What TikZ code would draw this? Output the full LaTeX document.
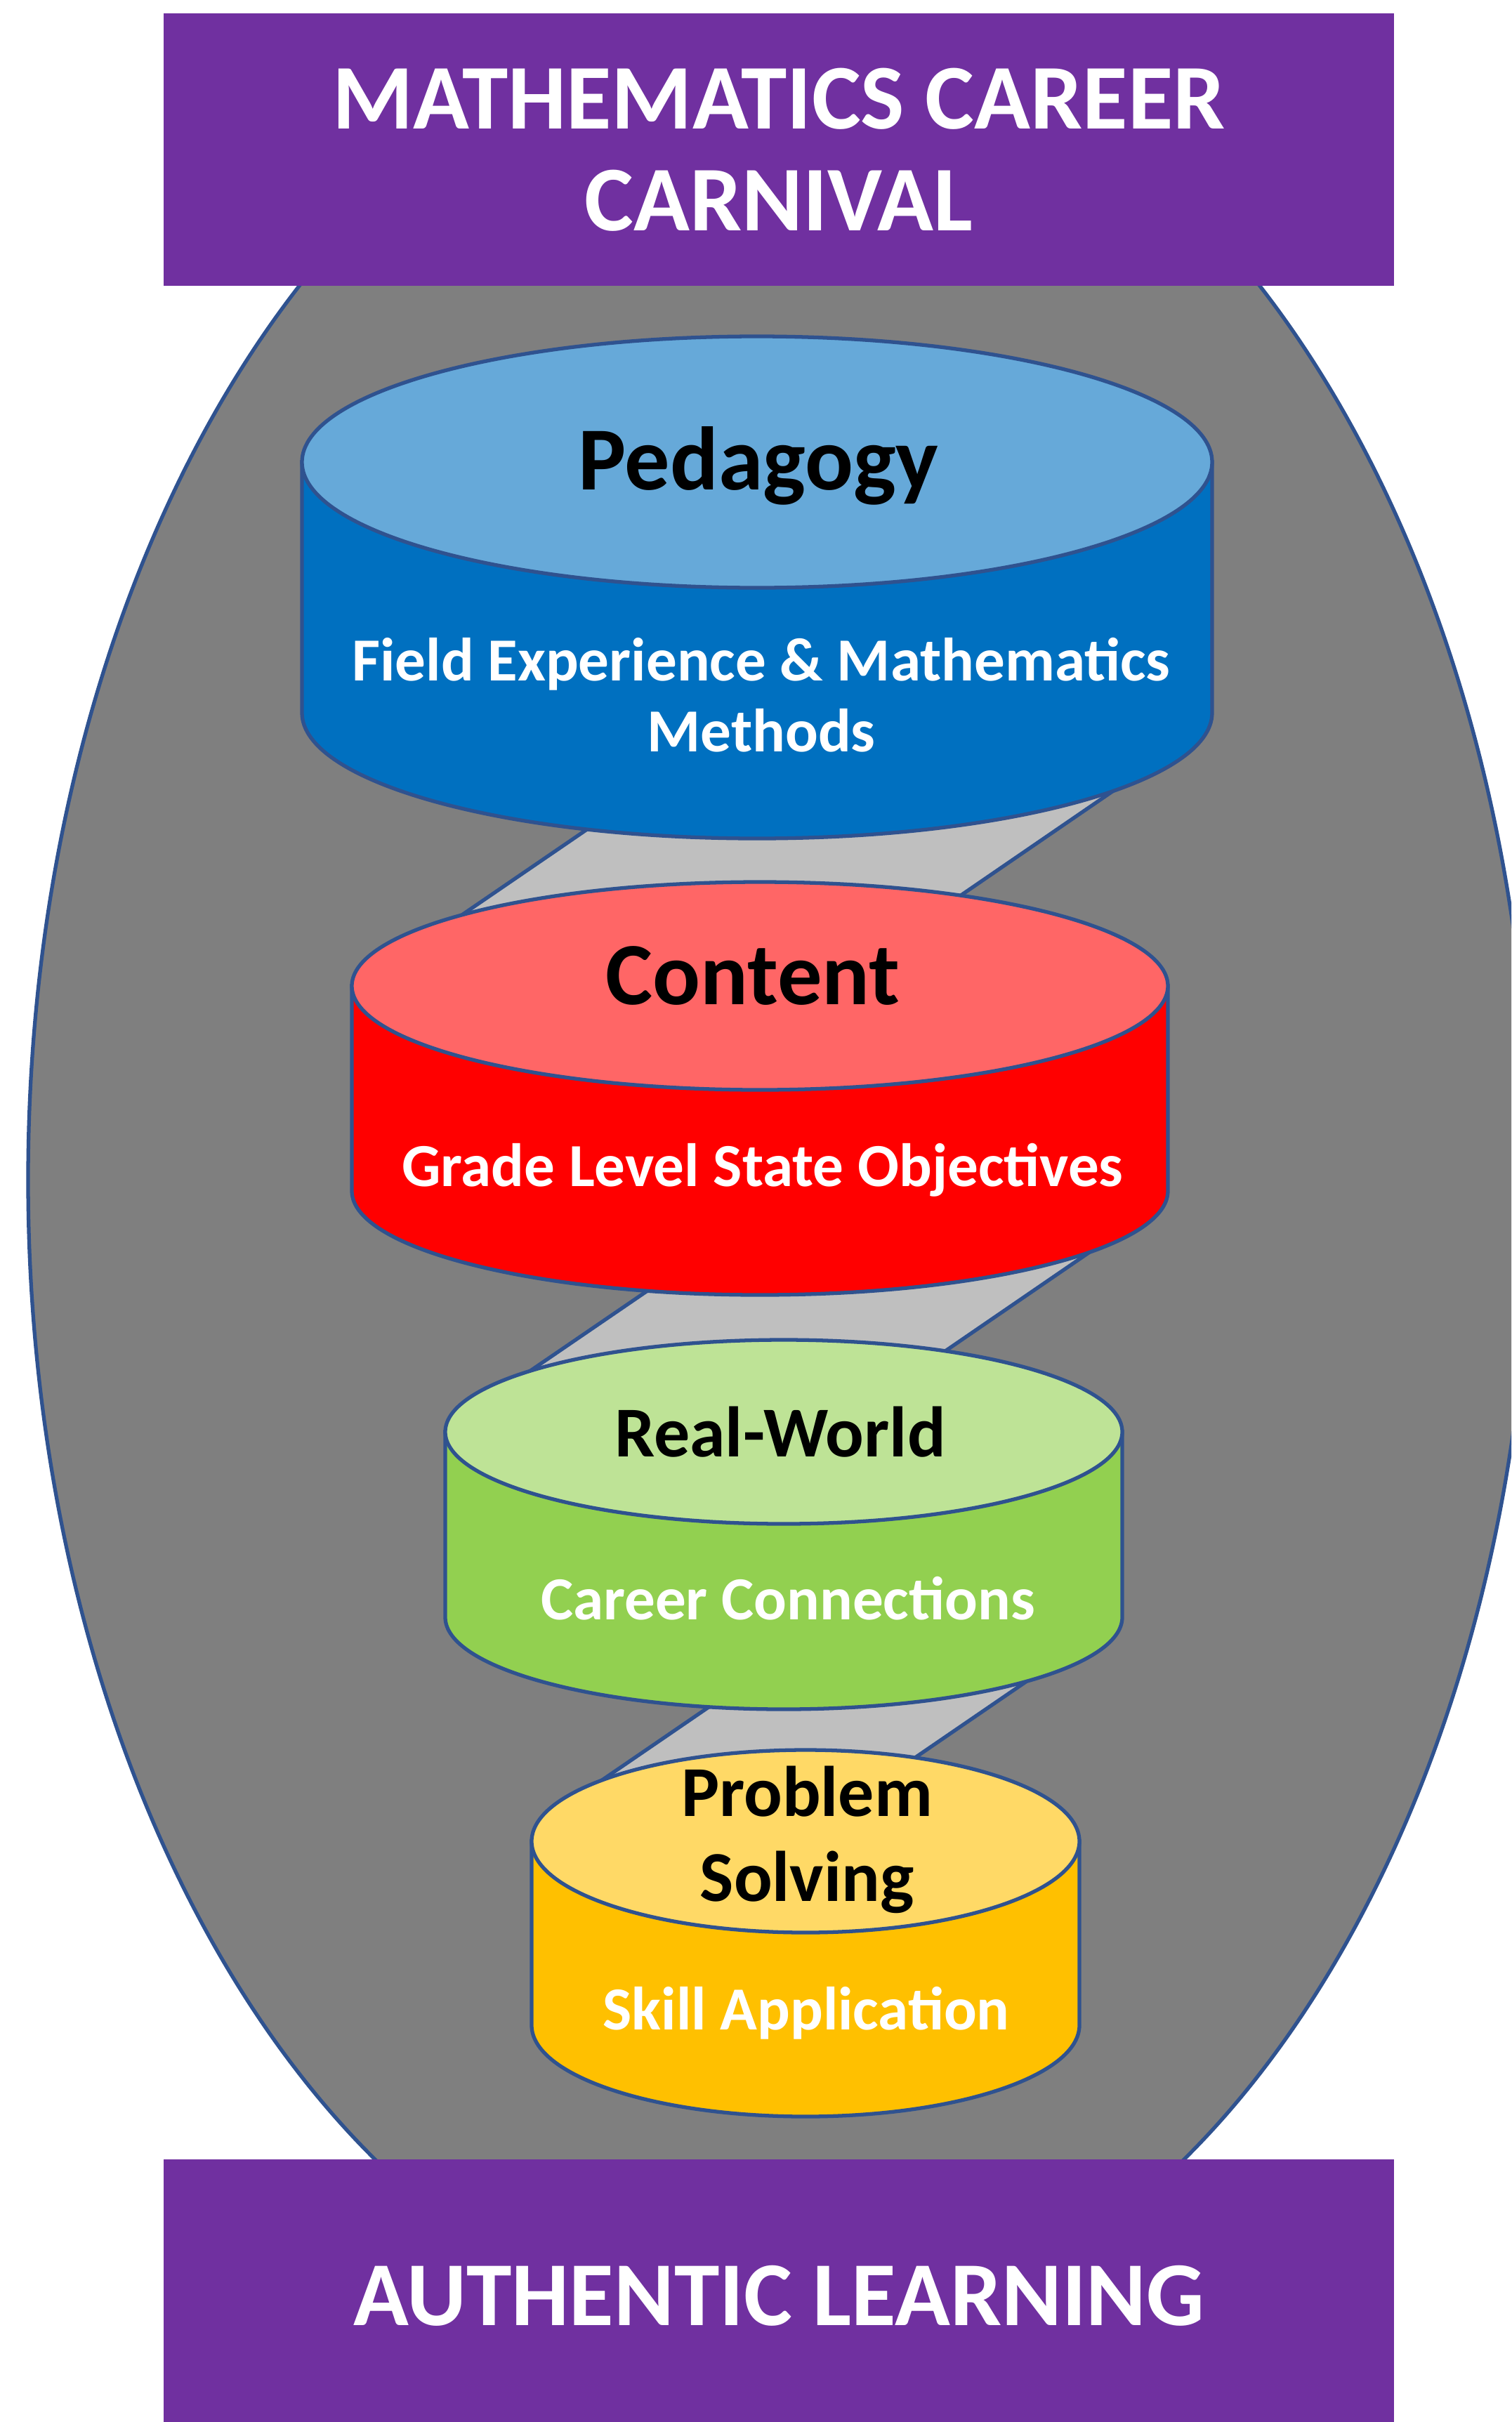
\documentclass[tikz,border=0pt]{standalone}
\usepackage{fontspec}
\setmainfont{Carlito}
\definecolor{bannerpurple}{HTML}{7030A0}
\definecolor{outlineblue}{HTML}{2F528F}
\definecolor{ovalgrey}{HTML}{7F7F7F}
\definecolor{bandgrey}{HTML}{BFBFBF}
\definecolor{pedtop}{HTML}{66A9D9}
\definecolor{pedbody}{HTML}{0070C0}
\definecolor{contop}{HTML}{FF6666}
\definecolor{conbody}{HTML}{FF0000}
\definecolor{realtop}{HTML}{BEE396}
\definecolor{realbody}{HTML}{92D050}
\definecolor{probtop}{HTML}{FFD966}
\definecolor{probbody}{HTML}{FFC000}

\begin{document}
\begin{tikzpicture}[
    drum/.style={draw=outlineblue, line width=1.5pt},
    band/.style={draw=outlineblue, line width=1.5pt, fill=bandgrey},
    banner/.style={rectangle, fill=bannerpurple, text=white, minimum width=17.52cm, minimum height=3.88cm, align=center, font=\bfseries\fontsize{37.5}{41.4}\selectfont},
    heading/.style={inner sep=0pt, anchor=base, align=center, font=\bfseries\fontsize{36.5}{42}\selectfont},
    note/.style={inner sep=0pt, anchor=base, align=center, text=white, font=\bfseries\fontsize{24.8}{28.5}\selectfont}
]
\clip (0,0) rectangle (21.52,-34.49);

% big oval behind everything
\filldraw[fill=ovalgrey, draw=outlineblue, line width=1.5pt] (11.10,-16.80) ellipse [x radius=10.70, y radius=16.55];

% grey bands between the drums
\filldraw[band] (9.69,-10.90) -- (16.38,-10.90) -- (12.15,-13.80) -- (5.45,-13.80) -- cycle;
\filldraw[band] (10.42,-17.56) -- (15.91,-17.56) -- (12.35,-20.00) -- (6.85,-20.00) -- cycle;
\filldraw[band] (11.23,-23.53) -- (15.22,-23.53) -- (12.05,-25.70) -- (8.06,-25.70) -- cycle;

% Pedagogy drum
\filldraw[drum, fill=pedbody] (4.30,-6.58) -- (4.30,-10.15) arc[start angle=180, end angle=360, x radius=6.48, y radius=1.79] -- (17.26,-6.58) -- cycle;
\filldraw[drum, fill=pedtop] (10.78,-6.58) ellipse [x radius=6.48, y radius=1.79];
\node[heading] (pedagogy) at (10.80,-6.97) {Pedagogy};
\node[note] (pedagogyNote) at (10.84,-10.70) {Field Experience \& Mathematics\\Methods};

% Content drum
\filldraw[drum, fill=conbody] (5.01,-14.04) -- (5.01,-16.96) arc[start angle=180, end angle=360, x radius=5.81, y radius=1.48] -- (16.63,-14.04) -- cycle;
\filldraw[drum, fill=contop] (10.82,-14.04) ellipse [x radius=5.81, y radius=1.48];
\node[heading, font=\bfseries\fontsize{36}{42}\selectfont] (content) at (10.72,-14.30) {Content};
\node[note] (contentNote) at (10.86,-16.89) {Grade Level State Objectives};

% Real-World drum
\filldraw[drum, fill=realbody] (6.34,-20.39) -- (6.34,-23.03) arc[start angle=180, end angle=360, x radius=4.82, y radius=1.31] -- (15.98,-20.39) -- cycle;
\filldraw[drum, fill=realtop] (11.16,-20.39) ellipse [x radius=4.82, y radius=1.31];
\node[heading, font=\bfseries\fontsize{29}{34}\selectfont] (realWorld) at (11.11,-20.74) {Real-World};
\node[note] (realWorldNote) at (11.22,-23.06) {Career Connections};

% Problem Solving drum
\filldraw[drum, fill=probbody] (7.57,-26.22) -- (7.57,-28.84) arc[start angle=180, end angle=360, x radius=3.90, y radius=1.30] -- (15.37,-26.22) -- cycle;
\filldraw[drum, fill=probtop] (11.47,-26.22) ellipse [x radius=3.90, y radius=1.30];
\node[heading, font=\bfseries\fontsize{29}{34.4}\selectfont] (problem) at (11.49,-27.07) {Problem\\Solving};
\node[note] (problemNote) at (11.48,-28.90) {Skill Application};

% banners on top and bottom
\node[banner] (carnival) at (11.09,-2.13) {MATHEMATICS CAREER\\CARNIVAL};
\node[banner, font=\bfseries\fontsize{37}{41.4}\selectfont] (authentic) at (11.09,-32.69) {AUTHENTIC LEARNING};
\end{tikzpicture}
\end{document}
